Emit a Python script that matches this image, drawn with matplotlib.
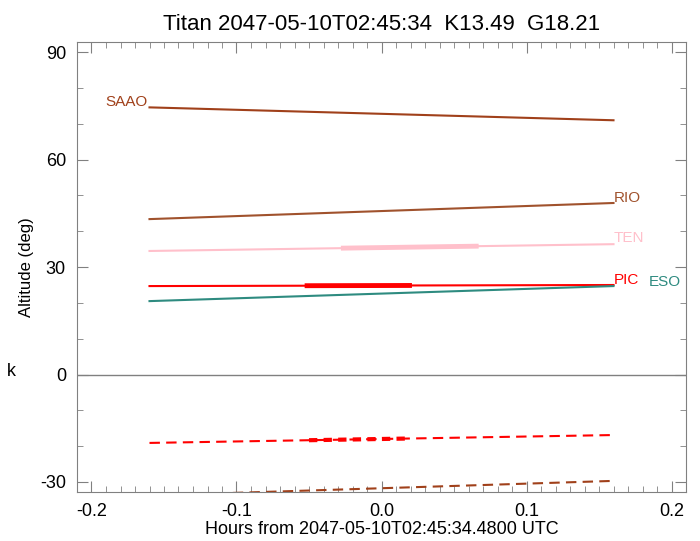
import numpy as np
import matplotlib
matplotlib.use("Agg")
import matplotlib.pyplot as plt
from matplotlib.ticker import MultipleLocator

plt.rcParams['font.family'] = ['Liberation Sans', 'DejaVu Sans']
plt.rcParams['axes.unicode_minus'] = False

# observatory tracks (hours, altitude)
hours = [-0.16, 0.16]
sites = ['SAAO', 'RIO', 'TEN', 'PIC', 'ESO']
alt_start = [74.6, 43.4, 34.5, 24.7, 20.5]
alt_end = [71.0, 47.9, 36.4, 25.0, 24.7]
colors = ['#A0401A', '#A0522D', '#FFC0CB', '#FF0000', '#2E8B80']

# observing windows (thick segments)
ten_window = [-0.028, 0.067]
pic_window = [-0.053, 0.021]

# dashed tracks below horizon
neg_red = [-19.1, -16.9]
neg_red_window = [-0.05, 0.02]
neg_brown = [-33.8, -29.7]

fig = plt.figure(figsize=(7, 5.41), dpi=100)
ax = fig.add_axes([0.11, 0.0906, 0.87, 0.8314])

ax.axhline(0, color='#808080', lw=1)

for name, a0, a1, c in zip(sites, alt_start, alt_end, colors):
    ax.plot(hours, [a0, a1], color=c, lw=1.5)

def seg(x0, x1, y):
    # altitude interpolated along straight track
    f = lambda x: y[0] + (y[1] - y[0]) * (x - hours[0]) / (hours[1] - hours[0])
    return [x0, x1], [f(x0), f(x1)]

xs, ys = seg(*ten_window, [alt_start[2], alt_end[2]])
ax.plot(xs, ys, color=colors[2], lw=3.5, solid_capstyle='butt')
xs, ys = seg(*pic_window, [alt_start[3], alt_end[3]])
ax.plot(xs, ys, color=colors[3], lw=3.5, solid_capstyle='butt')

ax.plot(hours, neg_red, color='#FF0000', lw=1.5, ls=(0, (5, 3)))
xs, ys = seg(*neg_red_window, neg_red)
ax.plot(xs, ys, color='#FF0000', lw=3.0, ls=(0, (2, 1.5)))
ax.plot(hours, neg_brown, color='#A0401A', lw=1.5, ls=(0, (5, 3)))

# labels
ax.text(-0.161, 76.0, 'SAAO', color=colors[0], ha='right', va='center', fontsize=11)
ax.text(0.16, 49.3, 'RIO', color=colors[1], ha='left', va='center', fontsize=11)
ax.text(0.16, 38.1, 'TEN', color=colors[2], ha='left', va='center', fontsize=11)
ax.text(0.16, 26.4, 'PIC', color=colors[3], ha='left', va='center', fontsize=11)
ax.text(0.184, 25.8, 'ESO', color=colors[4], ha='left', va='center', fontsize=11)

ax.set_xlim(-0.21, 0.21)
ax.set_ylim(-32.8, 92.8)
ax.xaxis.set_major_locator(MultipleLocator(0.1))
ax.xaxis.set_minor_locator(MultipleLocator(0.01))
ax.yaxis.set_major_locator(MultipleLocator(30))
ax.yaxis.set_minor_locator(MultipleLocator(10))
ax.xaxis.set_major_formatter(matplotlib.ticker.FormatStrFormatter('%.1f'))
ax.tick_params(which='both', direction='in', top=True, right=True, color='#808080',
               labelsize=13)
ax.tick_params(which='major', length=8, pad=8)
ax.tick_params(which='minor', length=4)
for s in ax.spines.values():
    s.set_color('#808080')

ax.set_xlabel('Hours from 2047-05-10T02:45:34.4800 UTC', fontsize=13, labelpad=1)
ax.set_ylabel('Altitude (deg)', fontsize=12)
ax.set_title('Titan 2047-05-10T02:45:34  K13.49  G18.21', fontsize=16, pad=9)

fig.text(0.008, 0.305, 'k', family='Liberation Mono', fontsize=13)

fig.savefig('out.png', dpi=100)
